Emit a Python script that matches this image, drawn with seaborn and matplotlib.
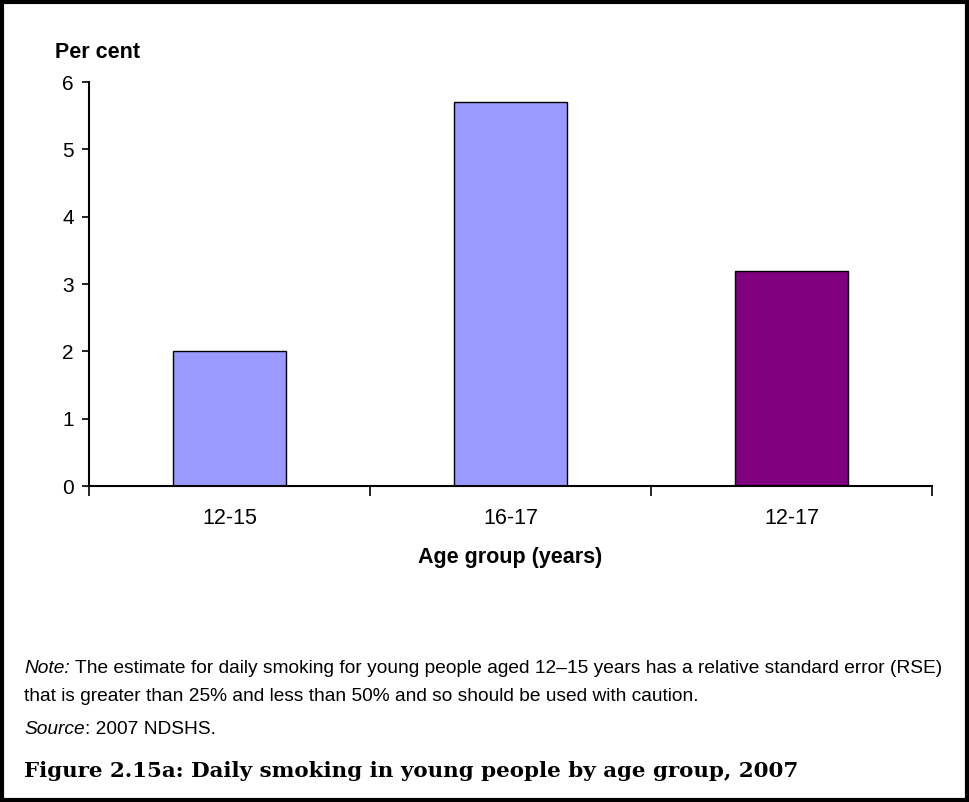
import matplotlib
matplotlib.use("Agg")
import matplotlib.pyplot as plt
from matplotlib.patches import Rectangle
import pandas as pd
import seaborn as sns

# data
age_groups = ["12-15", "16-17", "12-17"]
per_cent = [2.0, 5.7, 3.2]
bar_colours = ["#9999FF", "#9999FF", "#800080"]

y_ticks = [0, 1, 2, 3, 4, 5, 6]

df = pd.DataFrame({"age": age_groups, "pct": per_cent})

sns.set_style("white")
plt.rcParams["font.family"] = ["Liberation Sans", "DejaVu Sans"]
for key in ["text.color", "axes.labelcolor", "xtick.color", "ytick.color"]:
    plt.rcParams[key] = "black"

W, H = 969, 802
fig = plt.figure(figsize=(W / 100, H / 100), dpi=100)
ax = fig.add_axes([89 / W, 1 - 486 / H, (932 - 89) / W, (486 - 82) / H])

sns.barplot(data=df, x="age", y="pct", hue="age", palette=bar_colours,
            legend=False, width=0.4, edgecolor="black", linewidth=1.0,
            saturation=1, ax=ax)

ax.set_xlim(-0.5, 2.5)
ax.set_ylim(0, 6)
ax.set_yticks(y_ticks)
ax.set_xticks(range(len(age_groups)))
ax.set_xticklabels(age_groups)
ax.set_xticks([-0.5, 0.5, 1.5, 2.5], minor=True)
ax.tick_params(axis="x", which="major", bottom=True, length=0, labelsize=15.5, pad=16)
ax.tick_params(axis="x", which="minor", bottom=True, length=7, width=1.2,
               color="black", direction="out")
ax.tick_params(axis="y", left=True, length=5, width=1.2, color="black",
               direction="out", labelsize=15, pad=6)
ax.set_xlabel("")
ax.set_ylabel("")
for side in ["top", "right"]:
    ax.spines[side].set_visible(False)
for side in ["left", "bottom"]:
    ax.spines[side].set_color("black")
    ax.spines[side].set_linewidth(1.5)

fig.text(510 / W, 1 - 557 / H, "Age group (years)", fontsize=15.5,
         fontweight="bold", va="center", ha="center")
fig.text(55 / W, 1 - 52 / H, "Per cent", fontsize=15.5, fontweight="bold",
         va="center", ha="left")

note_size = 13.8
note = fig.text(24 / W, 1 - 673 / H, "Note:", fontsize=note_size,
                style="italic", va="baseline", ha="left")
ax.annotate(" The estimate for daily smoking for young people aged 12\u201315 years "
            "has a relative standard error (RSE)",
            xy=(1, 0), xycoords=note, fontsize=note_size, va="bottom", ha="left",
            annotation_clip=False)
fig.text(24 / W, 1 - 701 / H,
         "that is greater than 25% and less than 50% and so should be used with caution.",
         fontsize=note_size, va="baseline", ha="left")
src = fig.text(24 / W, 1 - 734 / H, "Source", fontsize=note_size,
               style="italic", va="baseline", ha="left")
ax.annotate(": 2007 NDSHS.", xy=(1, 0), xycoords=src, fontsize=note_size,
            va="bottom", ha="left", annotation_clip=False)

fig.text(24 / W, 1 - 771 / H,
         "Figure 2.15a: Daily smoking in young people by age group, 2007",
         fontsize=15.4, fontweight="bold", va="center", ha="left",
         family=["DejaVu Serif"])

fig.patches.append(Rectangle((0.002, 0.002), 0.996, 0.996, transform=fig.transFigure,
                             fill=False, edgecolor="black", linewidth=3))

fig.savefig("out.png", dpi=100)
